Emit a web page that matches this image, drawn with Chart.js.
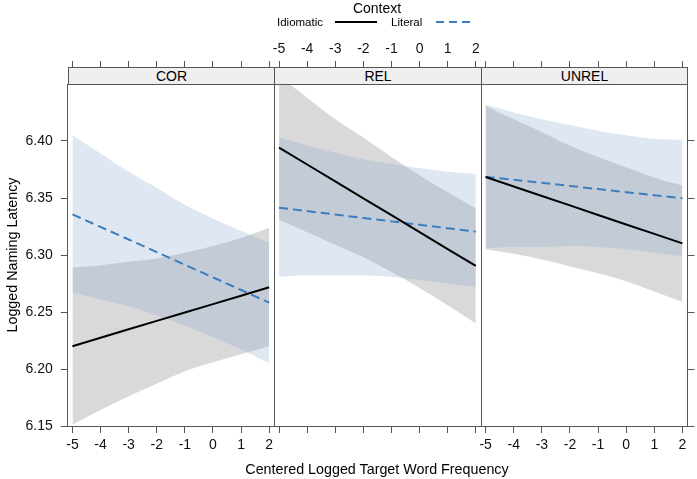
<!DOCTYPE html>
<html>
<head>
<meta charset="utf-8">
<script src="https://cdn.jsdelivr.net/npm/chart.js@4/dist/chart.umd.min.js"></script>
<style>
html,body{margin:0;padding:0;background:#fff;}
#wrap{position:relative;width:697px;height:479px;overflow:hidden;font-family:"Liberation Sans",Arial,sans-serif;color:#000;}
#wrap canvas{position:absolute;left:0;top:0;}
.txt{position:absolute;white-space:nowrap;z-index:3;}
.strip{position:absolute;top:67px;height:18px;box-sizing:border-box;background:#efefef;border:1px solid #555;font-size:14px;line-height:16px;text-align:center;z-index:2;}
</style>
</head>
<body>
<div id="wrap">
  <canvas id="c0" width="697" height="479"></canvas>
  <canvas id="c1" width="697" height="479"></canvas>
  <canvas id="c2" width="697" height="479"></canvas>

  <div class="txt" style="left:327px;top:0px;width:100px;text-align:center;font-size:14px;line-height:17px;">Context</div>
  <div class="txt" style="left:277px;top:15px;font-size:11.5px;line-height:14px;">Idiomatic</div>
  <svg class="txt" style="left:335px;top:17px;" width="42" height="10"><line x1="0" y1="5" x2="42" y2="5" stroke="#000" stroke-width="2"/></svg>
  <div class="txt" style="left:391px;top:15px;font-size:11.5px;line-height:14px;">Literal</div>
  <svg class="txt" style="left:436px;top:17px;" width="36" height="10"><line x1="0" y1="5" x2="36" y2="5" stroke="#3c7dbf" stroke-width="2" stroke-dasharray="8,5"/></svg>

  <div class="strip" id="s0" style="left:68px;width:207px;">COR</div>
  <div class="strip" id="s1" style="left:274px;width:208px;">REL</div>
  <div class="strip" id="s2" style="left:481px;width:207px;">UNREL</div>

  <div class="txt" style="left:177px;top:460px;width:400px;text-align:center;font-size:14.3px;line-height:18px;">Centered Logged Target Word Frequency</div>
  <div class="txt" style="left:-88px;top:245.5px;width:200px;height:18px;text-align:center;font-size:14.3px;line-height:18px;transform:rotate(-90deg);">Logged Naming Latency</div>
</div>
<script>
// ---- data ----
const xVals = [-5, -4, -3, -2, -1, 0, 1, 2];
const xTicks = [-5, -4, -3, -2, -1, 0, 1, 2];
const yTicks = [6.15, 6.20, 6.25, 6.30, 6.35, 6.40];
const panelNames = ['COR', 'REL', 'UNREL'];
const contexts = ['Idiomatic', 'Literal'];

// COR
const idiomFitCOR   = [6.2200, 6.2274, 6.2348, 6.2422, 6.2496, 6.2569, 6.2643, 6.2717];
const idiomLoCOR    = [6.151, 6.164, 6.176, 6.187, 6.198, 6.206, 6.213, 6.220];
const idiomHiCOR    = [6.289, 6.291, 6.294, 6.297, 6.302, 6.308, 6.315, 6.324];
const literalFitCOR = [6.3357, 6.3246, 6.3136, 6.3025, 6.2914, 6.2804, 6.2693, 6.2582];
const literalLoCOR  = [6.267, 6.261, 6.255, 6.247, 6.238, 6.228, 6.217, 6.205];
const literalHiCOR  = [6.405, 6.389, 6.373, 6.359, 6.344, 6.332, 6.321, 6.311];

// REL
const idiomFitREL   = [6.3942, 6.3794, 6.3645, 6.3497, 6.3349, 6.3201, 6.3052, 6.2904];
const idiomLoREL    = [6.331, 6.320, 6.309, 6.298, 6.285, 6.271, 6.256, 6.240];
const idiomHiREL    = [6.457, 6.438, 6.419, 6.403, 6.386, 6.370, 6.355, 6.341];
const literalFitREL = [6.3415, 6.3385, 6.3355, 6.3325, 6.3295, 6.3265, 6.3235, 6.3205];
const literalLoREL  = [6.281, 6.282, 6.282, 6.282, 6.281, 6.278, 6.275, 6.272];
const literalHiREL  = [6.403, 6.396, 6.390, 6.384, 6.380, 6.376, 6.373, 6.371];

// UNREL
const idiomFitUNREL   = [6.3684, 6.3601, 6.3518, 6.3435, 6.3351, 6.3268, 6.3185, 6.3102];
const idiomLoUNREL    = [6.305, 6.301, 6.296, 6.290, 6.284, 6.277, 6.268, 6.259];
const idiomHiUNREL    = [6.431, 6.419, 6.408, 6.396, 6.386, 6.377, 6.368, 6.361];
const literalFitUNREL = [6.3687, 6.3660, 6.3633, 6.3606, 6.3578, 6.3551, 6.3524, 6.3497];
const literalLoUNREL  = [6.306, 6.307, 6.307, 6.308, 6.307, 6.305, 6.302, 6.299];
const literalHiUNREL  = [6.432, 6.425, 6.419, 6.414, 6.409, 6.405, 6.402, 6.401];

// ---- layout / style ----
const FONT = '"Liberation Sans", Arial, sans-serif';
const W = 697, H = 479;
const X_MIN = -5.165, X_MAX = 2.185, Y_MIN = 6.15, Y_MAX = 6.45;
const panelLeft  = [67.8, 274.4, 481.0];
const panelRight = [274.4, 481.0, 687.6];
const PLOT_TOP = 84, PLOT_BOTTOM = 426;
const AX_TOP = 44, AX_BOTTOM = 34, AY_LEFT = 45, AY_RIGHT = 9;
const AXIS_COL = '#555';
const BLUE = '#3c7dbf';

const panelData = [
  {idFit: idiomFitCOR, idLo: idiomLoCOR, idHi: idiomHiCOR, liFit: literalFitCOR, liLo: literalLoCOR, liHi: literalHiCOR},
  {idFit: idiomFitREL, idLo: idiomLoREL, idHi: idiomHiREL, liFit: literalFitREL, liLo: literalLoREL, liHi: literalHiREL},
  {idFit: idiomFitUNREL, idLo: idiomLoUNREL, idHi: idiomHiUNREL, liFit: literalFitUNREL, liLo: literalLoUNREL, liHi: literalHiUNREL}
];

function pts(ys){ return xVals.map((x, i) => ({x: x, y: ys[i]})); }

function xAxis(pos, showLabels, tickLen, pad, size){
  return {
    type: 'linear', position: pos, min: X_MIN, max: X_MAX,
    afterBuildTicks: s => { s.ticks = xTicks.map(v => ({value: v})); },
    afterFit: s => { s.height = size; },
    grid: {display: true, drawOnChartArea: false, drawTicks: true, tickLength: tickLen, color: AXIS_COL, lineWidth: 1},
    border: {display: true, color: AXIS_COL, width: 1},
    ticks: {font: {family: FONT, size: 14}, color: showLabels ? '#111' : 'rgba(0,0,0,0)', padding: pad,
            maxRotation: 0, minRotation: 0, autoSkip: false, callback: v => String(v)}
  };
}
function yAxis(pos, showTicks, showLabels, size){
  return {
    type: 'linear', position: pos, min: Y_MIN, max: Y_MAX,
    afterBuildTicks: s => { s.ticks = yTicks.map(v => ({value: v})); },
    afterFit: s => { s.width = size; },
    grid: {display: true, drawOnChartArea: false, drawTicks: showTicks, tickLength: 7, color: AXIS_COL, lineWidth: 1},
    border: {display: true, color: AXIS_COL, width: 1},
    ticks: {font: {family: FONT, size: 14}, color: showLabels ? '#111' : 'rgba(0,0,0,0)', padding: 8,
            autoSkip: false, callback: v => Number(v).toFixed(2)}
  };
}

function makePanel(k){
  const d = panelData[k];
  const band = {pointRadius: 0, borderWidth: 0, borderColor: 'rgba(0,0,0,0)', cubicInterpolationMode: 'monotone'};
  const datasets = [
    {label: contexts[0], data: pts(d.idFit), borderColor: '#000', borderWidth: 2, pointRadius: 0, fill: false},
    {label: contexts[1], data: pts(d.liFit), borderColor: BLUE, borderWidth: 2, borderDash: [9, 5], pointRadius: 0, fill: false},
    Object.assign({label: 'Literal lower', data: pts(d.liLo), fill: false}, band),
    Object.assign({label: 'Literal upper', data: pts(d.liHi), fill: '-1', backgroundColor: 'rgba(132,166,205,0.26)'}, band),
    Object.assign({label: 'Idiomatic lower', data: pts(d.idLo), fill: false}, band),
    Object.assign({label: 'Idiomatic upper', data: pts(d.idHi), fill: '-1', backgroundColor: 'rgba(0,0,0,0.15)'}, band)
  ];
  new Chart(document.getElementById('c' + k), {
    type: 'line',
    data: {datasets: datasets},
    options: {
      responsive: false, animation: false, events: [],
      layout: {padding: {left: panelLeft[k] - AY_LEFT, right: W - panelRight[k] - AY_RIGHT,
                         top: PLOT_TOP - AX_TOP, bottom: H - PLOT_BOTTOM - AX_BOTTOM}},
      plugins: {legend: {display: false}, tooltip: {enabled: false}, title: {display: false}},
      scales: {
        x: xAxis('bottom', k !== 1, 7, 4, AX_BOTTOM),
        x2: xAxis('top', k === 1, 23, 3, AX_TOP),
        y: yAxis('left', k === 0, k === 0, AY_LEFT),
        y2: yAxis('right', k === 2, false, AY_RIGHT)
      }
    }
  });
}
[0, 1, 2].forEach(makePanel);
</script>
</body>
</html>
